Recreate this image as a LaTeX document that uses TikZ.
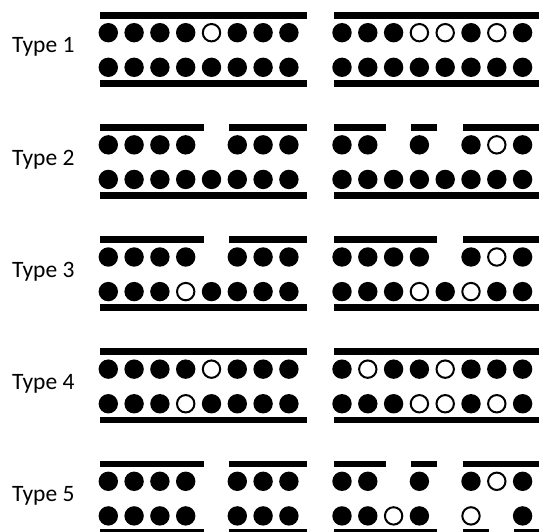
\documentclass[tikz,border=0pt]{standalone}
\usepackage{fontspec}
\setmainfont{Carlito}
\newcommand\myCircRow[3]{\foreach \k/\s in {#3}{\path[\s] ({#1+25.8*(\k-1)},{#2}) circle;}}
\newcommand\myBarRow[3]{\foreach \a/\b in {#3}{\fill ({#1+25.8*(\a-1)-8.5},{#2}) rectangle ({#1+25.8*(\b-1)+17.8},{#2+6.8});}}
\newcommand\myPanel[6]{%
  \myBarRow{#1}{#2}{#3}%
  \myCircRow{#1}{#2+20.7}{#4}%
  \myCircRow{#1}{#2+55.3}{#5}%
  \myBarRow{#1}{#2+68.2}{#6}}
\begin{document}
\begin{tikzpicture}[x=1pt,y=-1pt,
  cf/.style={fill=black,radius=9.7},
  co/.style={draw=black,fill=white,line width=2pt,radius=8.7},
  lab/.style={anchor=base west,font=\fontsize{23.5}{28}\selectfont,inner sep=0pt}]
\useasboundingbox (0,0) rectangle (539,532);
\def\L{108.3}
\def\R{342}
% Type 1
\node[lab] (t1) at (12,53) {Type 1};
\myPanel{\L}{12}{1/8}{1/cf,2/cf,3/cf,4/cf,5/co,6/cf,7/cf,8/cf}{1/cf,2/cf,3/cf,4/cf,5/cf,6/cf,7/cf,8/cf}{1/8}
\myPanel{\R}{12}{1/8}{1/cf,2/cf,3/cf,4/co,5/co,6/cf,7/co,8/cf}{1/cf,2/cf,3/cf,4/cf,5/cf,6/cf,7/cf,8/cf}{1/8}
% Type 2
\node[lab] (t2) at (12,165.15) {Type 2};
\myPanel{\L}{124.15}{1/4,6/8}{1/cf,2/cf,3/cf,4/cf,6/cf,7/cf,8/cf}{1/cf,2/cf,3/cf,4/cf,5/cf,6/cf,7/cf,8/cf}{1/8}
\myPanel{\R}{124.15}{1/2,4/4,6/8}{1/cf,2/cf,4/cf,6/cf,7/co,8/cf}{1/cf,2/cf,3/cf,4/cf,5/cf,6/cf,7/cf,8/cf}{1/8}
% Type 3
\node[lab] (t3) at (12,277.3) {Type 3};
\myPanel{\L}{236.3}{1/4,6/8}{1/cf,2/cf,3/cf,4/cf,6/cf,7/cf,8/cf}{1/cf,2/cf,3/cf,4/co,5/cf,6/cf,7/cf,8/cf}{1/8}
\myPanel{\R}{236.3}{1/4,6/8}{1/cf,2/cf,3/cf,4/cf,6/cf,7/co,8/cf}{1/cf,2/cf,3/cf,4/co,5/cf,6/co,7/cf,8/cf}{1/8}
% Type 4
\node[lab] (t4) at (12,389.45) {Type 4};
\myPanel{\L}{348.45}{1/8}{1/cf,2/cf,3/cf,4/cf,5/co,6/cf,7/cf,8/cf}{1/cf,2/cf,3/cf,4/co,5/cf,6/cf,7/cf,8/cf}{1/8}
\myPanel{\R}{348.45}{1/8}{1/cf,2/co,3/cf,4/cf,5/co,6/cf,7/cf,8/cf}{1/cf,2/cf,3/cf,4/co,5/co,6/cf,7/co,8/cf}{1/8}
% Type 5
\node[lab] (t5) at (12,501.6) {Type 5};
\myPanel{\L}{460.6}{1/4,6/8}{1/cf,2/cf,3/cf,4/cf,6/cf,7/cf,8/cf}{1/cf,2/cf,3/cf,4/cf,6/cf,7/cf,8/cf}{1/4,6/8}
\myPanel{\R}{460.6}{1/2,4/4,6/8}{1/cf,2/cf,4/cf,6/cf,7/co,8/cf}{1/cf,2/cf,3/co,4/cf,6/co,8/cf}{1/4,6/6,8/8}
\end{tikzpicture}
\end{document}
